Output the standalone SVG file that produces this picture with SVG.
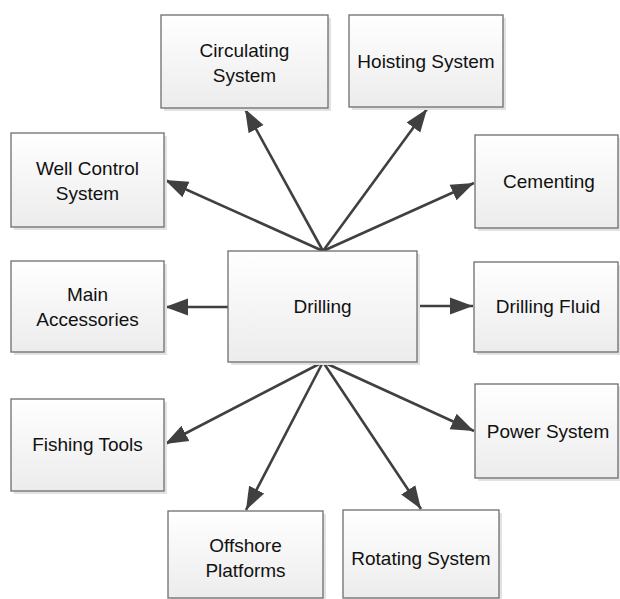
<svg xmlns="http://www.w3.org/2000/svg" width="620" height="599" viewBox="0 0 620 599">
<style>
.box{fill:url(#g);stroke:#6e6e6e;stroke-width:1.3}
.sh{fill:#e2e2e2}
.t{font-family:"Liberation Sans",Arial,sans-serif;font-size:19px;fill:#111;text-anchor:middle}
.e{stroke:#404040;stroke-width:2.6;fill:none;marker-end:url(#a)}
</style>
<defs>
<linearGradient id="g" x1="0" y1="0" x2="0" y2="1">
<stop offset="0" stop-color="#ffffff"/>
<stop offset="1" stop-color="#ececec"/>
</linearGradient>
<marker id="a" markerUnits="userSpaceOnUse" markerWidth="24" markerHeight="20" viewBox="0 0 24 20" refX="23" refY="10" orient="auto">
<path d="M0,1.5 L23,10 L0,18.5 Z" fill="#404040"/>
</marker>
</defs>
<rect width="620" height="599" fill="#fff"/>
<g id="edges">
<line class="e" x1="323" y1="251" x2="245" y2="109"/>
<line class="e" x1="323" y1="251" x2="427" y2="109"/>
<line class="e" x1="323" y1="251" x2="165" y2="180"/>
<line class="e" x1="323" y1="251" x2="474" y2="183"/>
<line class="e" x1="228" y1="307" x2="165" y2="307"/>
<line class="e" x1="417" y1="306" x2="473" y2="306"/>
<line class="e" x1="323" y1="362" x2="165" y2="444"/>
<line class="e" x1="323" y1="362" x2="246" y2="510"/>
<line class="e" x1="323" y1="362" x2="421" y2="509"/>
<line class="e" x1="323" y1="362" x2="474" y2="431"/>
</g>
<g id="drilling"><rect class="sh" x="231" y="254" width="189" height="111"/><rect class="box" x="228" y="251" width="189" height="111"/><text class="t" x="322.5" y="313">Drilling</text></g>
<g id="circulating"><rect class="sh" x="164" y="18" width="167" height="93"/><rect class="box" x="161" y="15" width="167" height="93"/><text class="t" x="244.5" y="57">Circulating</text><text class="t" x="244.5" y="82">System</text></g>
<g id="hoisting"><rect class="sh" x="352" y="18" width="154" height="92"/><rect class="box" x="349" y="15" width="154" height="92"/><text class="t" x="426" y="68">Hoisting System</text></g>
<g id="wellcontrol"><rect class="sh" x="14" y="136" width="153" height="94"/><rect class="box" x="11" y="133" width="153" height="94"/><text class="t" x="87.5" y="175">Well Control</text><text class="t" x="87.5" y="200">System</text></g>
<g id="cementing"><rect class="sh" x="478" y="138" width="143" height="93"/><rect class="box" x="475" y="135" width="143" height="93"/><text class="t" x="549" y="188">Cementing</text></g>
<g id="mainaccessories"><rect class="sh" x="14" y="264" width="153" height="91"/><rect class="box" x="11" y="261" width="153" height="91"/><text class="t" x="87.5" y="301">Main</text><text class="t" x="87.5" y="326">Accessories</text></g>
<g id="drillingfluid"><rect class="sh" x="477" y="265" width="144" height="90"/><rect class="box" x="474" y="262" width="144" height="90"/><text class="t" x="548" y="313">Drilling Fluid</text></g>
<g id="fishingtools"><rect class="sh" x="14" y="402" width="153" height="92"/><rect class="box" x="11" y="399" width="153" height="92"/><text class="t" x="87.5" y="451">Fishing Tools</text></g>
<g id="powersystem"><rect class="sh" x="478" y="387" width="143" height="94"/><rect class="box" x="475" y="384" width="143" height="94"/><text class="t" x="548" y="438">Power System</text></g>
<g id="offshore"><rect class="sh" x="171" y="514" width="155" height="88"/><rect class="box" x="168" y="511" width="155" height="87"/><text class="t" x="245.5" y="552">Offshore</text><text class="t" x="245.5" y="577">Platforms</text></g>
<g id="rotating"><rect class="sh" x="346" y="513" width="156" height="89"/><rect class="box" x="343" y="510" width="156" height="88"/><text class="t" x="421" y="565">Rotating System</text></g>
</svg>
